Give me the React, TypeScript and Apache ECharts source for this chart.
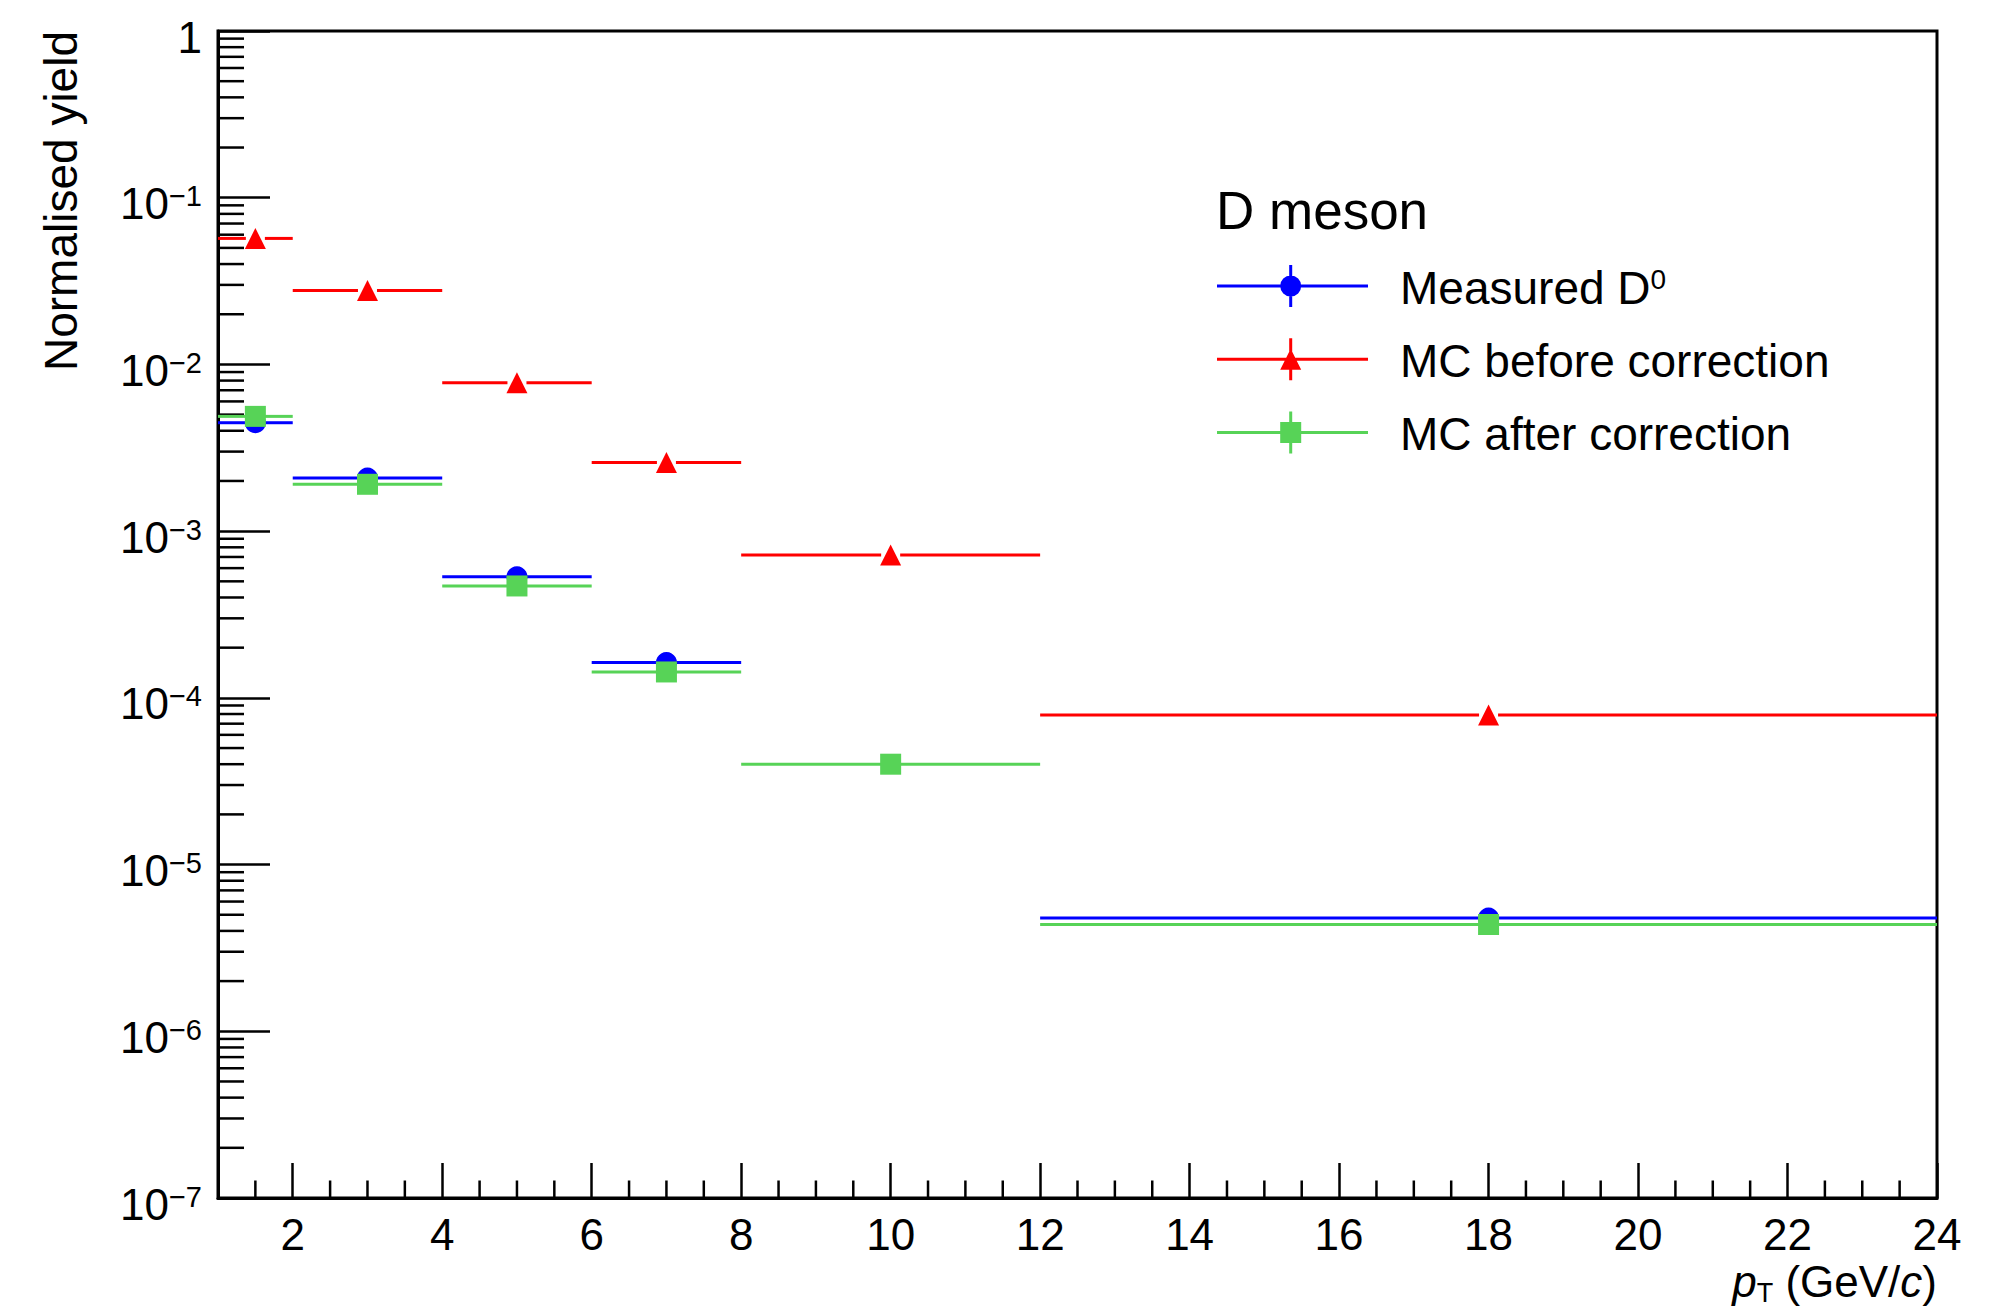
import React, { useEffect, useRef } from "react";
import * as echarts from "echarts";

const FONT = '"Liberation Sans", Arial, Helvetica, sans-serif';

// pT bins in GeV/c
const BIN_LOW = [1, 2, 4, 6, 8, 12];
const BIN_HIGH = [2, 4, 6, 8, 12, 24];
const BIN_CENTER = [1.5, 3, 5, 7, 10, 18];

// Normalised yields per bin (null = no entry)
const MEASURED_D0 = [4.47e-3, 2.08e-3, 5.32e-4, 1.63e-4, null, 4.78e-6];
const MC_BEFORE = [5.7e-2, 2.78e-2, 7.77e-3, 2.58e-3, 7.19e-4, 7.88e-5];
const MC_AFTER = [4.88e-3, 1.91e-3, 4.69e-4, 1.43e-4, 4.0e-5, 4.37e-6];

const NAME_MEASURED = "Measured D0";
const NAME_BEFORE = "MC before correction";
const NAME_AFTER = "MC after correction";

const BLUE = "#0000ff";
const RED = "#ff0000";
const GREEN = "#57d357";

const X_MIN = 1;
const X_MAX = 24;
const Y_MIN = 1e-7;
const Y_MAX = 1;

// Axis ticks: major every 2 GeV/c, minor every 0.5; log minor ticks at 2..9 x 10^n
const X_MAJOR = [2, 4, 6, 8, 10, 12, 14, 16, 18, 20, 22, 24];
const X_MINOR: number[] = [];
for (let v = 1.5; v < X_MAX; v += 0.5) if (v % 2 !== 0) X_MINOR.push(v);
const Y_MINOR: number[] = [];
for (let e = -7; e < 0; e++) for (let k = 2; k <= 9; k++) Y_MINOR.push(k * Math.pow(10, e));

const MARKER = 21;
const GAP = 9.5;

// Legend icons: horizontal bar + vertical error bar + marker (151 x 42 box)
const BARS = "M0 19.5H151V22.5H0Z M72.2 0H75.2V42H72.2Z ";
const ICON_CIRCLE = "path://" + BARS + "M63.2 21A10.5 10.5 0 1 1 84.2 21A10.5 10.5 0 1 1 63.2 21Z";
const ICON_TRIANGLE = "path://" + BARS + "M73.7 10.5L84.2 31.5L63.2 31.5Z";
const ICON_SQUARE = "path://" + BARS + "M63.2 10.5H84.2V31.5H63.2Z";

function binBars(name: string, color: string, values: (number | null)[]) {
  return {
    type: "custom",
    name,
    itemStyle: { color },
    encode: { x: [0, 1, 2], y: 3 },
    data: values
      .map((v, i) => (v == null ? null : [BIN_LOW[i], BIN_HIGH[i], BIN_CENTER[i], v]))
      .filter((d) => d !== null),
    renderItem: (_params: any, api: any) => {
      const y = api.value(3);
      const a = api.coord([api.value(0), y]);
      const b = api.coord([api.value(1), y]);
      const c = api.coord([api.value(2), y]);
      const style = { stroke: color, lineWidth: 3 };
      return {
        type: "group",
        children: [
          { type: "line", shape: { x1: a[0], y1: c[1], x2: c[0] - GAP, y2: c[1] }, style },
          { type: "line", shape: { x1: c[0] + GAP, y1: c[1], x2: b[0], y2: c[1] }, style },
        ],
      };
    },
  };
}

function binMarkers(name: string, color: string, symbol: string, values: (number | null)[]) {
  return {
    type: "scatter",
    name,
    symbol,
    symbolSize: MARKER,
    itemStyle: { color, opacity: 1 },
    emphasis: { disabled: true },
    data: values
      .map((v, i) => (v == null ? null : [BIN_CENTER[i], v]))
      .filter((d) => d !== null),
  };
}

function tickSeries(values: number[], vertical: boolean, len: number) {
  return {
    type: "custom",
    silent: true,
    encode: { x: 0, y: 1 },
    data: values.map((v) => (vertical ? [v, Y_MIN] : [X_MIN, v])),
    renderItem: (_params: any, api: any) => {
      const p = api.coord([api.value(0), api.value(1)]);
      return {
        type: "line",
        shape: vertical
          ? { x1: p[0], y1: p[1], x2: p[0], y2: p[1] - len }
          : { x1: p[0], y1: p[1], x2: p[0] + len, y2: p[1] },
        style: { stroke: "#000", lineWidth: 2.5 },
      };
    },
  };
}

function buildOption() {
  return {
    animation: false,
    backgroundColor: "#fff",
    title: {
      text: "D meson",
      left: 1216,
      top: 184,
      padding: 0,
      textStyle: { fontSize: 53, lineHeight: 52, fontWeight: "normal", fontFamily: FONT, color: "#000" },
    },
    legend: {
      orient: "vertical",
      left: 1217,
      top: 265,
      padding: 0,
      itemWidth: 151,
      itemHeight: 42,
      itemGap: 27.2,
      selectedMode: false,
      itemStyle: { borderWidth: 0 },
      data: [
        { name: NAME_MEASURED, icon: ICON_CIRCLE },
        { name: NAME_BEFORE, icon: ICON_TRIANGLE },
        { name: NAME_AFTER, icon: ICON_SQUARE },
      ],
      formatter: (name: string) =>
        name === NAME_MEASURED ? "{t|Measured D}{s|0}" : `{t|${name}}`,
      textStyle: {
        fontSize: 46,
        lineHeight: 42,
        fontFamily: FONT,
        color: "#000",
        padding: [0, 0, 0, 27],
        rich: {
          t: { fontSize: 46, lineHeight: 42, verticalAlign: "top", fontFamily: FONT, color: "#000" },
          s: { fontSize: 28, lineHeight: 10, verticalAlign: "top", fontFamily: FONT, color: "#000" },
        },
      },
    },
    grid: {
      left: 218,
      top: 31,
      width: 1719,
      height: 1167,
      show: true,
      borderColor: "#000",
      borderWidth: 3,
      backgroundColor: "transparent",
      containLabel: false,
      outerBoundsMode: "none",
    },
    xAxis: {
      type: "value",
      min: X_MIN,
      max: X_MAX,
      splitNumber: 12,
      name: "{i|p}{t|T}{n| (GeV/}{i|c}{n|)}",
      nameLocation: "end",
      nameGap: 0,
      nameMoveOverlap: false,
      nameTextStyle: {
        align: "right",
        verticalAlign: "top",
        padding: [61, 0, 0, 0],
        fontSize: 44,
        fontFamily: FONT,
        color: "#000",
        rich: {
          n: { fontSize: 44, lineHeight: 42, verticalAlign: "top", fontFamily: FONT, color: "#000" },
          i: { fontSize: 44, lineHeight: 42, verticalAlign: "top", fontStyle: "italic", fontFamily: FONT, color: "#000" },
          t: { fontSize: 27, lineHeight: 18, verticalAlign: "top", padding: [20, 0, 0, 0], fontFamily: FONT, color: "#000" },
        },
      },
      axisLine: { show: true, onZero: false, lineStyle: { color: "#000", width: 3 } },
      axisTick: {
        show: true,
        inside: true,
        length: 35,
        customValues: X_MAJOR,
        lineStyle: { color: "#000", width: 2.5 },
      },
      axisLabel: {
        customValues: X_MAJOR,
        margin: 18,
        fontSize: 44,
        lineHeight: 36,
        fontFamily: FONT,
        color: "#000",
      },
      splitLine: { show: false },
    },
    yAxis: {
      type: "log",
      logBase: 10,
      min: Y_MIN,
      max: Y_MAX,
      splitNumber: 7,
      name: "Normalised yield",
      nameLocation: "end",
      nameGap: 0,
      nameRotate: 90,
      nameMoveOverlap: false,
      nameTextStyle: {
        align: "right",
        verticalAlign: "bottom",
        fontSize: 46,
        lineHeight: 46,
        fontFamily: FONT,
        color: "#000",
        padding: [0, 0, 134, 0],
      },
      axisLine: { show: true, onZero: false, lineStyle: { color: "#000", width: 3 } },
      axisTick: { show: true, inside: true, length: 52, lineStyle: { color: "#000", width: 2.5 } },
      axisLabel: {
        margin: 16,
        fontSize: 44,
        fontFamily: FONT,
        color: "#000",
        padding: [12, 0, 0, 0],
        formatter: (v: number) => {
          const e = Math.round(Math.log10(v));
          return e === 0 ? "{b|1}" : `{b|10}{s|\u2212${-e}}`;
        },
        rich: {
          b: { fontSize: 44, lineHeight: 44, verticalAlign: "top", fontFamily: FONT, color: "#000" },
          s: { fontSize: 29, lineHeight: 18, verticalAlign: "top", fontFamily: FONT, color: "#000" },
        },
      },
      splitLine: { show: false },
    },
    series: [
      tickSeries(X_MINOR, true, 17.5),
      tickSeries(Y_MINOR, false, 26),
      binBars(NAME_MEASURED, BLUE, MEASURED_D0),
      binMarkers(NAME_MEASURED, BLUE, "circle", MEASURED_D0),
      binBars(NAME_BEFORE, RED, MC_BEFORE),
      binMarkers(NAME_BEFORE, RED, "triangle", MC_BEFORE),
      binBars(NAME_AFTER, GREEN, MC_AFTER),
      binMarkers(NAME_AFTER, GREEN, "rect", MC_AFTER),
    ],
  };
}

export default function App() {
  const ref = useRef<HTMLDivElement>(null);
  useEffect(() => {
    if (!ref.current) return;
    const chart = echarts.init(ref.current, null, { renderer: "svg", width: 1997, height: 1312 });
    chart.setOption(buildOption() as any);
    return () => chart.dispose();
  }, []);
  return (
    <div
      ref={ref}
      style={{ position: "absolute", left: 0, top: 0, width: 1997, height: 1312, background: "#fff" }}
    />
  );
}
